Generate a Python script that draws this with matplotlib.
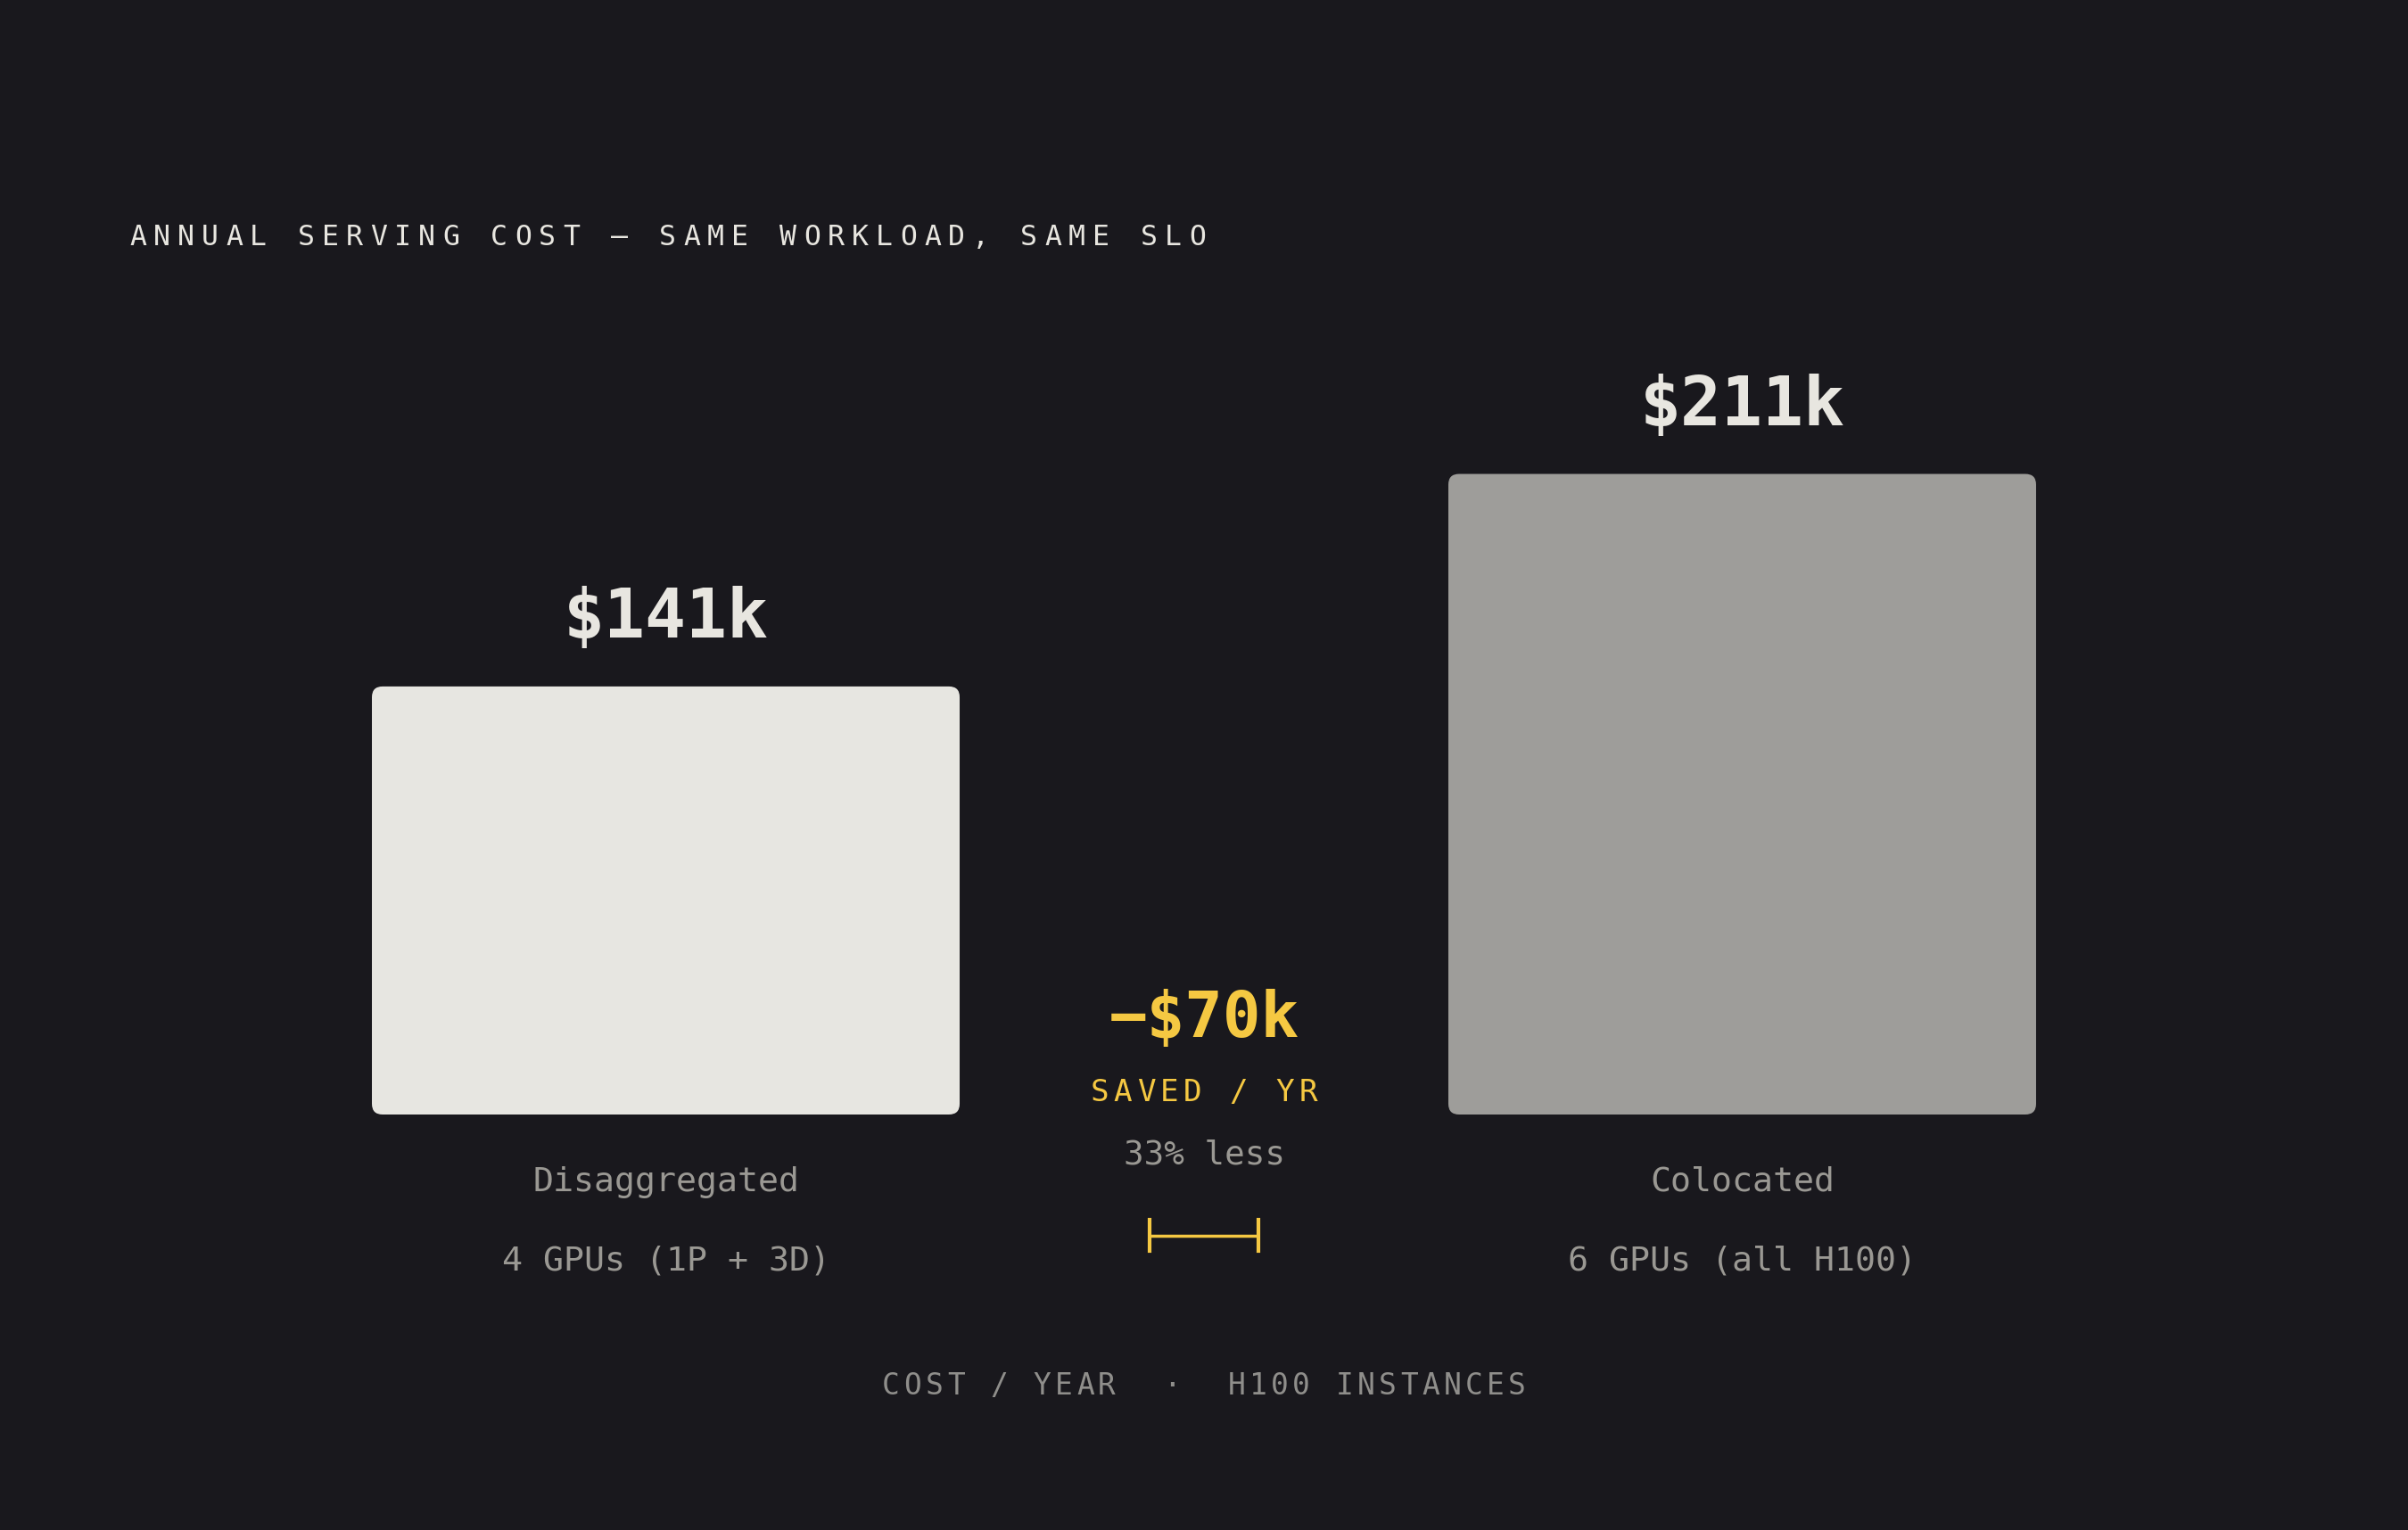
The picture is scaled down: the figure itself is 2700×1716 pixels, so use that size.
import matplotlib
matplotlib.use("Agg")
import matplotlib.pyplot as plt
from matplotlib.patches import FancyBboxPatch

# data
setups = ["Disaggregated", "Colocated"]
gpu_notes = ["4 GPUs (1P + 3D)", "6 GPUs (all H100)"]
cost_k = [141, 211]
bar_colors = ["#e7e6e1", "#9e9d9a"]
saved_k = cost_k[1] - cost_k[0]
pct_less = round(saved_k / cost_k[1] * 100)

BG = "#19181d"
LIGHT = "#e8e6e0"
GREY = "#9a9893"
YELLOW = "#f5c842"
MONO = "DejaVu Sans Mono"

W, H = 2700, 1716
fig = plt.figure(figsize=(W / 100, H / 100), dpi=100, facecolor=BG)

# bar axes: baseline at y=1250 px, 3.405 px per $k, 603.5 px per slot
base_px = 1250
ax = fig.add_axes([0, 1 - base_px / H, 1, base_px / H])
ax.set_facecolor(BG)
ax.set_ylim(0, base_px / 3.405)
ax.set_xlim(-1.237, 3.237)
ax.axis("off")

xpos = [0, 2]
bars = ax.bar(xpos, cost_k, width=1.092, color=bar_colors)
r = 12 / 603.5
for b in bars:
    p = FancyBboxPatch((b.get_x(), b.get_y()), b.get_width(), b.get_height(),
                       boxstyle=f"round,pad=0,rounding_size={r}",
                       mutation_aspect=603.5 / 3.405,
                       facecolor=b.get_facecolor(), edgecolor="none")
    ax.add_patch(p)
    b.remove()

for x, v, name, note in zip(xpos, cost_k, setups, gpu_notes):
    ax.annotate(f"${v}k", (x, v), xytext=(0, 55), textcoords="offset pixels",
                ha="center", va="baseline", fontsize=55, fontweight="bold",
                family=MONO, color=LIGHT, annotation_clip=False)
    ax.annotate(name, (x, 0), xytext=(0, -86), textcoords="offset pixels",
                ha="center", va="baseline", fontsize=27.5, family=MONO,
                color=GREY, annotation_clip=False)
    ax.annotate(note, (x, 0), xytext=(0, -175), textcoords="offset pixels",
                ha="center", va="baseline", fontsize=27.5, family=MONO,
                color=GREY, annotation_clip=False)

# overlay in pixel coordinates for the free text
ov = fig.add_axes([0, 0, 1, 1])
ov.set_xlim(0, W)
ov.set_ylim(H, 0)
ov.patch.set_alpha(0)
ov.axis("off")


def tracked(x, y, s, size, adv, ha="left", **kw):
    nat = 0.602 * size / 0.72
    total = (len(s) - 1) * adv + nat
    x0 = x - total / 2 if ha == "center" else x
    for i, ch in enumerate(s):
        ov.text(x0 + i * adv + nat / 2, y, ch, ha="center", va="baseline",
                fontsize=size, family=MONO, **kw)


tracked(145, 275, "ANNUAL SERVING COST — SAME WORKLOAD, SAME SLO", 22.7, 27.0,
        color=LIGHT)

mid = 1350
ov.text(mid, 1163, f"\u2212${saved_k}k", ha="center", va="baseline",
        fontsize=51, fontweight="bold", family=MONO, color=YELLOW)
tracked(mid, 1235, "SAVED / YR", 24.7, 26.0, ha="center", color=YELLOW)
ov.text(mid, 1305, f"{pct_less}% less", ha="center", va="baseline",
        fontsize=27, family=MONO, color=GREY)

# bracket
ov.plot([mid - 61, mid + 61], [1386, 1386], color=YELLOW, lw=2.5,
        solid_capstyle="butt")
ov.plot([mid - 61, mid - 61], [1368, 1403], color=YELLOW, lw=3)
ov.plot([mid + 61, mid + 61], [1368, 1403], color=YELLOW, lw=3)

tracked(mid, 1564, "COST / YEAR  ·  H100 INSTANCES", 23.7, 24.2,
        ha="center", color="#8f8e8b")

fig.savefig("out.png", dpi=100, facecolor=BG)
